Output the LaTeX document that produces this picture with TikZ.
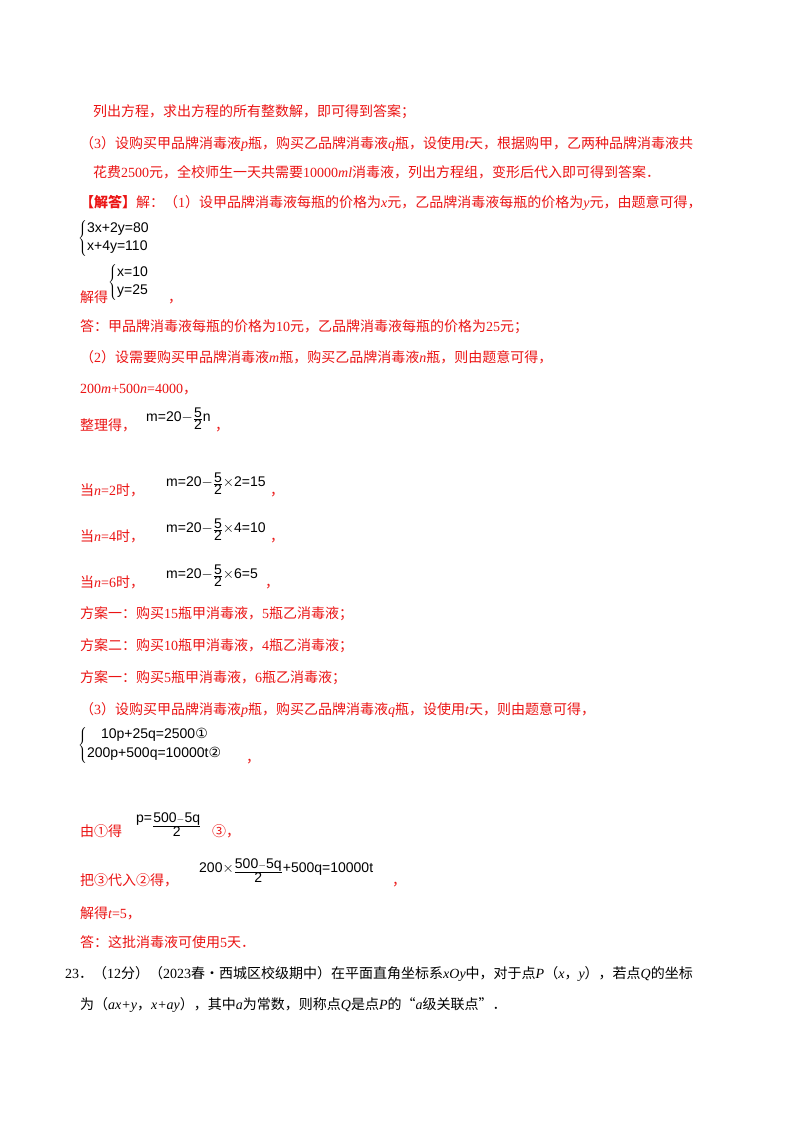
\documentclass[tikz,border=0pt]{standalone}
\usepackage{fontspec}
\setmainfont{Noto Sans CJK SC}
\setsansfont{Liberation Sans}
\newfontfamily\tms{Liberation Serif}
\newfontfamily\djv{DejaVu Sans}
\newcommand{\vr}[1]{{\tms\itshape #1}}
\newcommand{\nm}[1]{{\tms #1}}
\definecolor{rd}{RGB}{235,20,20}
\begin{document}
\begin{tikzpicture}[x=1pt,y=-1pt,
  tl/.style={anchor=base west,inner sep=0pt,text=rd,font=\fontsize{14}{16}\selectfont},
  fm/.style={anchor=base west,inner sep=0pt,text=black,font=\fontsize{14}{16}\sffamily}]
\useasboundingbox[fill=white] (0,0) rectangle (800,1132);
\node[tl] (l1) at (93,116) {列出方程，求出方程的所有整数解，即可得到答案；};
\node[tl] (l2) at (80,148) {（\nm{3}）设购买甲品牌消毒液\vr{p}瓶，购买乙品牌消毒液\vr{q}瓶，设使用\vr{t}天，根据购甲，乙两种品牌消毒液共};
\node[tl] (l3) at (93,177) {花费\nm{2500}元，全校师生一天共需要\nm{10000}\vr{ml}消毒液，列出方程组，变形后代入即可得到答案．};
\node[tl] (l4) at (80,207) {\textbf{【解答】}解：（\nm{1}）设甲品牌消毒液每瓶的价格为\vr{x}元，乙品牌消毒液每瓶的价格为\vr{y}元，由题意可得，};
\node[fm,anchor=west] (s1) at (78,238) {$\left\{\begin{array}{@{}l@{}}\textsf{3x+2y=80}\\[2pt]\textsf{x+4y=110}\end{array}\right.$};
\node[tl] (l5) at (80,302) {解得};
\node[fm,anchor=west] (s2) at (108,282) {$\left\{\begin{array}{@{}l@{}}\textsf{x=10}\\[2pt]\textsf{y=25}\end{array}\right.$};
\node[tl] at (168,302) {，};
\node[tl] (l6) at (80,331) {答：甲品牌消毒液每瓶的价格为\nm{10}元，乙品牌消毒液每瓶的价格为\nm{25}元；};
\node[tl] (l7) at (80,362) {（\nm{2}）设需要购买甲品牌消毒液\vr{m}瓶，购买乙品牌消毒液\vr{n}瓶，则由题意可得，};
\node[tl] (l8) at (80,393) {\nm{200}\vr{m}\nm{+500}\vr{n}\nm{=4000}，};
\node[tl] (l9) at (80,430) {整理得，};
\node[fm] (f9) at (146,421) {m=20$-$\raisebox{-2pt}{$\frac{\textsf{5}}{\textsf{2}}$}n};
\node[tl] at (215,430) {，};
\node[tl] (l10) at (80,495) {当\vr{n}\nm{=2}时，};
\node[fm] at (166,486) {m=20$-$\raisebox{-2pt}{$\frac{\textsf{5}}{\textsf{2}}$}$\times$2=15};
\node[tl] at (270,495) {，};
\node[tl] (l11) at (80,541) {当\vr{n}\nm{=4}时，};
\node[fm] at (166,532) {m=20$-$\raisebox{-2pt}{$\frac{\textsf{5}}{\textsf{2}}$}$\times$4=10};
\node[tl] at (270,541) {，};
\node[tl] (l12) at (80,587) {当\vr{n}\nm{=6}时，};
\node[fm] at (166,578) {m=20$-$\raisebox{-2pt}{$\frac{\textsf{5}}{\textsf{2}}$}$\times$6=5};
\node[tl] at (265,587) {，};
\node[tl] at (80,618) {方案一：购买\nm{15}瓶甲消毒液，\nm{5}瓶乙消毒液；};
\node[tl] at (80,650) {方案二：购买\nm{10}瓶甲消毒液，\nm{4}瓶乙消毒液；};
\node[tl] at (80,682) {方案一：购买\nm{5}瓶甲消毒液，\nm{6}瓶乙消毒液；};
\node[tl] at (80,714) {（\nm{3}）设购买甲品牌消毒液\vr{p}瓶，购买乙品牌消毒液\vr{q}瓶，设使用\vr{t}天，则由题意可得，};
\node[fm,anchor=west] at (78,745) {$\left\{\begin{array}{@{}l@{}}\textsf{\quad 10p+25q=2500}\mbox{\djv ①}\\[3pt]\textsf{200p+500q=10000t}\mbox{\djv ②}\end{array}\right.$};
\node[tl] at (246,762) {，};
\node[tl] at (80,836) {由①得};
\node[fm] at (136,822) {p=\raisebox{-8pt}{$\frac{\textsf{500}-\textsf{5q}}{\textsf{2}}$}};
\node[tl] at (212,836) {③，};
\node[tl] at (80,885) {把③代入②得，};
\node[fm] at (199,872) {200$\times$\raisebox{-4pt}{$\frac{\textsf{500}-\textsf{5q}}{\textsf{2}}$}+500q=10000t};
\node[tl] at (392,885) {，};
\node[tl] at (80,918) {解得\vr{t}\nm{=5}，};
\node[tl] at (80,947) {答：这批消毒液可使用\nm{5}天．};
\node[tl,text=black] at (65,978) {\nm{23}．（\nm{12}分）（\nm{2023}春•西城区校级期中）在平面直角坐标系\vr{xOy}中，对于点\vr{P}（\vr{x}，\vr{y}），若点\vr{Q}的坐标};
\node[tl,text=black] at (80,1009) {为（\vr{ax+y}，\vr{x+ay}），其中\vr{a}为常数，则称点\vr{Q}是点\vr{P}的“\vr{a}级关联点”．};
\end{tikzpicture}
\end{document}
